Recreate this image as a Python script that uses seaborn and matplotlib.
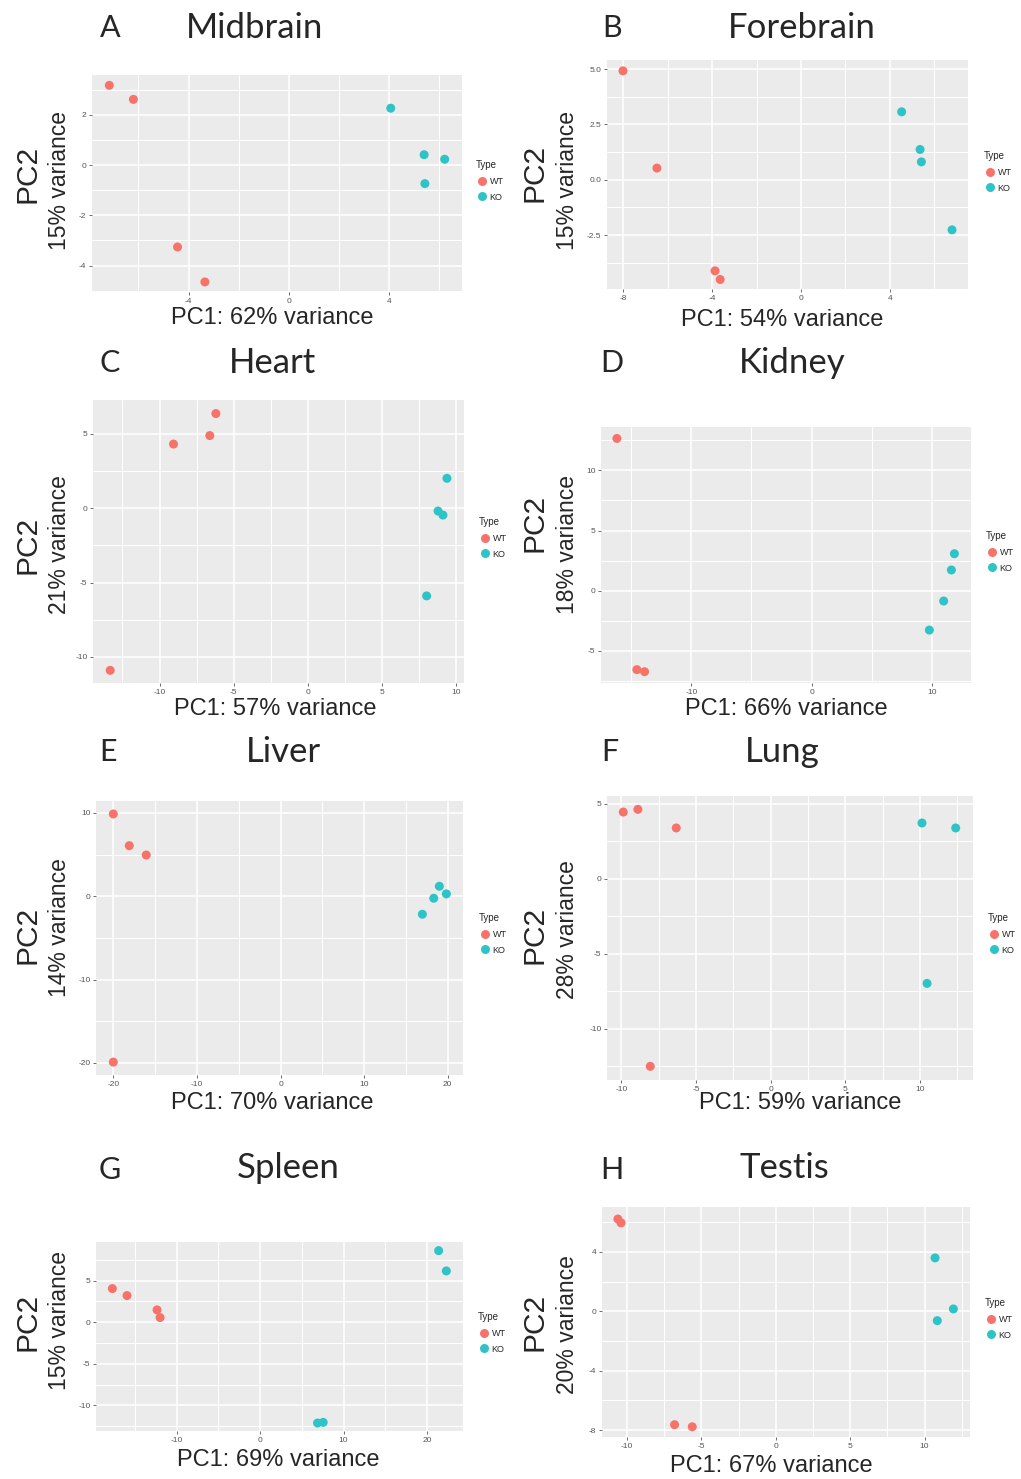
import numpy as np
import pandas as pd
import matplotlib
matplotlib.use("Agg")
import matplotlib.pyplot as plt
import seaborn as sns

# ---------------- data ----------------
TYPES = ["WT", "KO"]
PALETTE = {"WT": "#F7736A", "KO": "#2EC3C6"}

MIDBRAIN_PC1 = [-7.16, -6.20, -4.44, -3.35, 4.06, 5.39, 6.21, 5.42]
MIDBRAIN_PC2 = [3.17, 2.61, -3.26, -4.65, 2.26, 0.41, 0.23, -0.74]
MIDBRAIN_TYPE = ["WT"] * 4 + ["KO"] * 4

FOREBRAIN_PC1 = [-8.02, -6.49, -3.87, -3.64, 4.54, 5.37, 5.43, 6.81]
FOREBRAIN_PC2 = [4.92, 0.53, -4.11, -4.50, 3.07, 1.37, 0.81, -2.26]
FOREBRAIN_TYPE = ["WT"] * 4 + ["KO"] * 4

HEART_PC1 = [-13.33, -9.06, -6.61, -6.20, 9.39, 8.79, 9.12, 8.02]
HEART_PC2 = [-10.90, 4.30, 4.87, 6.35, 2.00, -0.20, -0.47, -5.90]
HEART_TYPE = ["WT"] * 4 + ["KO"] * 4

KIDNEY_PC1 = [-16.18, -14.52, -13.88, 11.86, 11.61, 10.97, 9.78]
KIDNEY_PC2 = [12.65, -6.56, -6.73, 3.07, 1.72, -0.86, -3.27]
KIDNEY_TYPE = ["WT"] * 3 + ["KO"] * 4

LIVER_PC1 = [-20.0, -18.09, -16.06, -20.0, 16.97, 18.33, 19.0, 19.84]
LIVER_PC2 = [9.87, 6.07, 4.95, -19.9, -2.16, -0.24, 1.20, 0.28]
LIVER_TYPE = ["WT"] * 4 + ["KO"] * 4

LUNG_PC1 = [-9.88, -8.90, -6.33, -8.07, 10.14, 12.40, 10.48]
LUNG_PC2 = [4.44, 4.62, 3.38, -12.51, 3.71, 3.38, -6.98]
LUNG_TYPE = ["WT"] * 4 + ["KO"] * 3

SPLEEN_PC1 = [-17.72, -15.96, -12.36, -12.0, 21.40, 22.32, 6.88, 7.56]
SPLEEN_PC2 = [4.04, 3.20, 1.48, 0.56, 8.60, 6.16, -12.12, -12.04]
SPLEEN_TYPE = ["WT"] * 4 + ["KO"] * 4

TESTIS_PC1 = [-10.62, -10.41, -6.81, -5.62, 10.71, 11.94, 10.86]
TESTIS_PC2 = [6.22, 5.96, -7.64, -7.78, 3.60, 0.16, -0.63]
TESTIS_TYPE = ["WT"] * 4 + ["KO"] * 3

LETTERS = ["A", "B", "C", "D", "E", "F", "G", "H"]
TITLES = ["Midbrain", "Forebrain", "Heart", "Kidney", "Liver", "Lung", "Spleen", "Testis"]
PC1_VAR = [62, 54, 57, 66, 70, 59, 69, 67]
PC2_VAR = [15, 15, 21, 18, 14, 28, 15, 20]

XTICKS = [[-4, 0, 4], [-8, -4, 0, 4], [-10, -5, 0, 5, 10], [-10, 0, 10],
          [-20, -10, 0, 10, 20], [-10, -5, 0, 5, 10], [-10, 0, 10, 20], [-10, -5, 0, 5, 10]]
YTICKS = [[-4, -2, 0, 2], [-2.5, 0.0, 2.5, 5.0], [-10, -5, 0, 5], [-5, 0, 5, 10],
          [-20, -10, 0, 10], [-10, -5, 0, 5], [-10, -5, 0, 5], [-8, -4, 0, 4]]

DATA = [
    (MIDBRAIN_PC1, MIDBRAIN_PC2, MIDBRAIN_TYPE),
    (FOREBRAIN_PC1, FOREBRAIN_PC2, FOREBRAIN_TYPE),
    (HEART_PC1, HEART_PC2, HEART_TYPE),
    (KIDNEY_PC1, KIDNEY_PC2, KIDNEY_TYPE),
    (LIVER_PC1, LIVER_PC2, LIVER_TYPE),
    (LUNG_PC1, LUNG_PC2, LUNG_TYPE),
    (SPLEEN_PC1, SPLEEN_PC2, SPLEEN_TYPE),
    (TESTIS_PC1, TESTIS_PC2, TESTIS_TYPE),
]

# ---------------- layout (pixels) ----------------
W, H = 1021, 1479
BOXES = [(92, 75, 462, 292), (607, 60, 968, 289), (93, 400, 464, 683), (601, 427, 971, 683),
         (96, 801, 463, 1075), (607, 796, 973, 1080), (96, 1242, 463, 1431), (602, 1207, 970, 1437)]
XLIMS = [(-7.85, 6.9), (-8.74, 7.53), (-14.49, 10.54), (-17.5, 13.24),
         (-22.07, 21.83), (-10.97, 13.56), (-19.68, 24.32), (-11.69, 13.06)]
YLIMS = [(-5.05, 3.58), (-4.93, 5.41), (-11.75, 7.26), (-7.67, 13.6),
         (-21.45, 11.43), (-13.42, 5.51), (-13.08, 9.64), (-8.47, 7.03)]
LETTER_POS = [(110, 28), (612, 28), (110, 363), (612, 363), (108, 752), (610, 752), (110, 1170), (612, 1170)]
TITLE_POS = [(255, 28), (802, 28), (272, 363), (792, 363), (283, 752), (782, 752), (288, 1168), (784, 1168)]
PC2_POS = [(27, 174), (534, 173), (27, 545), (534, 523), (27, 935), (534, 935), (27, 1322), (534, 1322)]
VAR_POS = [(60, 180), (567, 180), (60, 545), (567, 545), (60, 928), (567, 930), (60, 1320), (567, 1325)]
XLAB_POS = [(272, 318), (782, 320), (275, 709), (786, 709), (272, 1103), (800, 1103), (278, 1460), (771, 1466)]
LEG_POS = [(476, 160), (984, 151), (479, 517), (986, 531), (479, 913), (988, 913), (478, 1312), (985, 1298)]

TITLE_FONT = ["Lato", "DejaVu Sans"]
LABEL_FONT = ["Liberation Sans", "DejaVu Sans"]


def fx(px):
    return px / W


def fy(py):
    return 1 - py / H


def minor_ticks(major, lim):
    step = major[1] - major[0]
    cand = [major[0] - step / 2] + [m + step / 2 for m in major]
    return [c for c in cand if lim[0] < c < lim[1]]


sns.set_theme(style="darkgrid")
plt.rcParams["font.family"] = LABEL_FONT

fig = plt.figure(figsize=(W / 100, H / 100), dpi=100)
fig.patch.set_facecolor("white")

for i in range(8):
    pc1, pc2, typ = DATA[i]
    df = pd.DataFrame({"PC1": pc1, "PC2": pc2, "Type": typ})
    x0, y0, x1, y1 = BOXES[i]
    ax = fig.add_axes([fx(x0), fy(y1), (x1 - x0) / W, (y1 - y0) / H])
    ax.set_facecolor("#EBEBEB")
    sns.scatterplot(data=df, x="PC1", y="PC2", hue="Type", hue_order=TYPES,
                    palette=PALETTE, s=42, linewidth=0, ax=ax, zorder=3)
    ax.set_xlim(*XLIMS[i])
    ax.set_ylim(*YLIMS[i])
    ax.set_xticks(XTICKS[i])
    ax.set_yticks(YTICKS[i])
    if i == 1:
        ax.set_yticklabels([f"{v:.1f}" for v in YTICKS[i]])
    else:
        ax.set_yticklabels([f"{v:g}" for v in YTICKS[i]])
    ax.set_xticklabels([f"{v:g}" for v in XTICKS[i]])
    ax.set_xticks(minor_ticks(XTICKS[i], XLIMS[i]), minor=True)
    ax.set_yticks(minor_ticks(YTICKS[i], YLIMS[i]), minor=True)
    ax.xaxis.grid(True, which="major", color="white", linewidth=1.1)
    ax.yaxis.grid(True, which="major", color="white", linewidth=1.1)
    ax.xaxis.grid(True, which="minor", color="white", linewidth=0.75)
    ax.yaxis.grid(True, which="minor", color="white", linewidth=0.75)
    ax.set_axisbelow(True)
    for sp in ax.spines.values():
        sp.set_visible(False)
    ax.tick_params(which="major", length=2.5, width=0.6, color="#555555",
                   labelsize=6, labelcolor="#555555", pad=1.5,
                   bottom=True, left=True)
    ax.tick_params(which="minor", length=0, width=0)
    ax.set_xlabel("")
    ax.set_ylabel("")

    lx, ly = LEG_POS[i]
    sns.move_legend(ax, "upper left", bbox_to_anchor=(fx(lx), fy(ly)),
                    bbox_transform=fig.transFigure, frameon=False,
                    title="Type", fontsize=6.5, title_fontsize=7,
                    handletextpad=0.2, borderpad=0, borderaxespad=0,
                    labelspacing=0.75, markerscale=1.0, alignment="left",
                    handlelength=1.3)

    fig.text(fx(LETTER_POS[i][0]), fy(LETTER_POS[i][1]), LETTERS[i],
             family=TITLE_FONT, fontsize=22, ha="center", va="center")
    fig.text(fx(TITLE_POS[i][0]), fy(TITLE_POS[i][1]), TITLES[i],
             family=TITLE_FONT, fontsize=25, ha="center", va="center")
    fig.text(fx(PC2_POS[i][0]), fy(PC2_POS[i][1]), "PC2",
             family=LABEL_FONT, fontsize=21.5, rotation=90, ha="center", va="center")
    fig.text(fx(VAR_POS[i][0]), fy(VAR_POS[i][1]), f"{PC2_VAR[i]}% variance",
             family=LABEL_FONT, fontsize=16.5, rotation=90, ha="center", va="center")
    fig.text(fx(XLAB_POS[i][0]), fy(XLAB_POS[i][1]), f"PC1: {PC1_VAR[i]}% variance",
             family=LABEL_FONT, fontsize=17, ha="center", va="center")

fig.savefig("out.png", dpi=100, facecolor="white")
